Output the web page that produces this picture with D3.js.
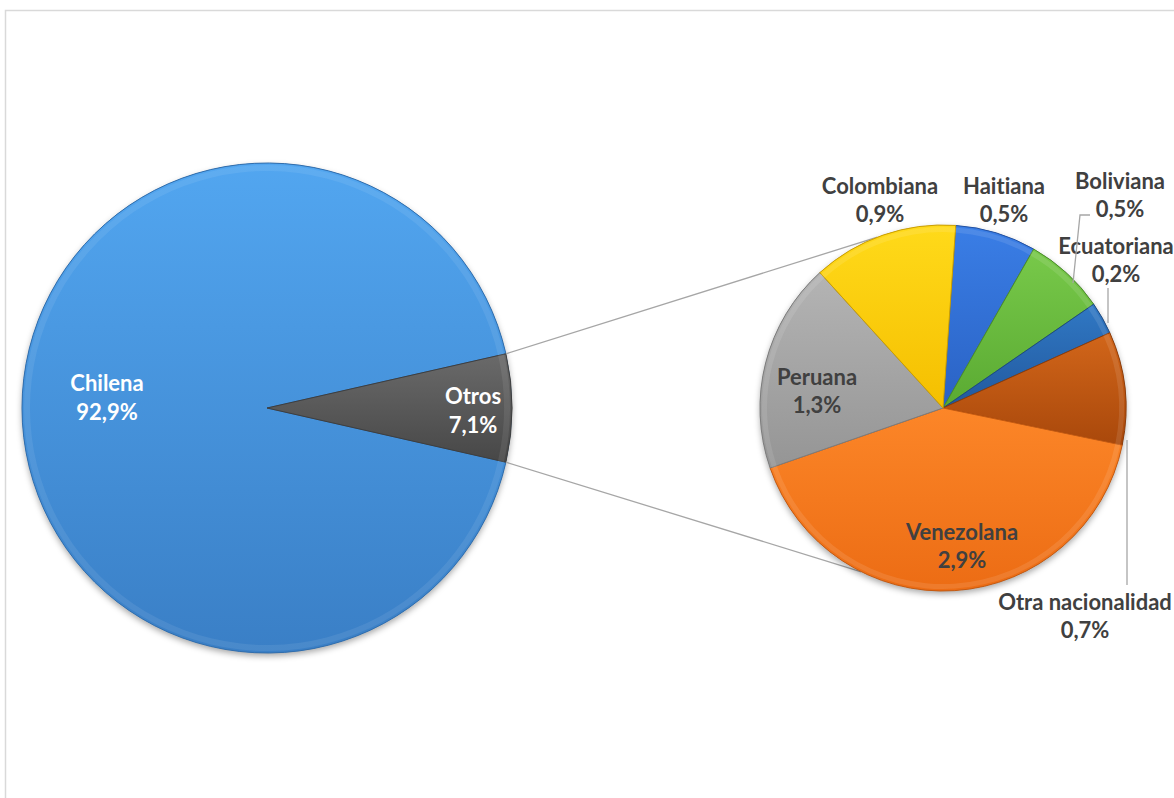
<!DOCTYPE html>
<html><head><meta charset="utf-8">
<script src="https://cdn.jsdelivr.net/npm/d3@7"></script>
<style>
html,body{margin:0;padding:0;background:#fff;}
svg{display:block;}
text{font-family:"Lato","Open Sans",sans-serif;font-weight:bold;font-variant-ligatures:none;font-feature-settings:"liga" 0,"clig" 0;}
</style></head>
<body>
<svg id="chart" width="1174" height="798"></svg>
<script>
// ---- data ----
const mainCategories = ["Chilena", "Otros"];
const mainValues = [92.9, 7.1];
const mainLabels = ["92,9%", "7,1%"];
const subCategories = ["Haitiana", "Boliviana", "Ecuatoriana", "Otra nacionalidad", "Venezolana", "Peruana", "Colombiana"];
const subValues = [0.5, 0.5, 0.2, 0.7, 2.9, 1.3, 0.9];
const subLabels = ["0,5%", "0,5%", "0,2%", "0,7%", "2,9%", "1,3%", "0,9%"];

// ---- styles / layout ----
const mainColors = {"Chilena": ["#52a6f0", "#3a7fc6"], "Otros": ["#6a6a6a", "#474747"]};
const subColors = {
  "Haitiana": ["#3a7ee6", "#2a62c4"],
  "Boliviana": ["#78c94a", "#5aaa32"],
  "Ecuatoriana": ["#3078c4", "#22599e"],
  "Otra nacionalidad": ["#d2661a", "#a9480b"],
  "Venezolana": ["#fc8628", "#ec6c14"],
  "Peruana": ["#b4b4b4", "#959595"],
  "Colombiana": ["#ffda1a", "#f5bf00"]
};
const FS = 22;
const mainLabelOffset = {"Chilena": [-160, -11], "Otros": [206, 2]};
const mainLabelColor = {"Chilena": "#ffffff", "Otros": "#ffffff"};
const subLabelOffset = {
  "Haitiana": [61, -208], "Boliviana": [177, -213], "Ecuatoriana": [173, -148],
  "Otra nacionalidad": [142, 208], "Venezolana": [19, 138], "Peruana": [-126, -17],
  "Colombiana": [-63, -208]
};
const leaders = {
  "Boliviana": [[130, -125], [137, -193], [147, -193]],
  "Ecuatoriana": [[165, -85], [165, -120]],
  "Otra nacionalidad": [[184, 32], [184, 177]]
};

const svg = d3.select("#chart");
const defs = svg.append("defs");
const shadow = defs.append("filter").attr("id", "shadow").attr("x", "-20%").attr("y", "-20%").attr("width", "140%").attr("height", "140%");
shadow.append("feDropShadow").attr("dx", 0).attr("dy", 3).attr("stdDeviation", 3).attr("flood-color", "#000").attr("flood-opacity", 0.35);

function grad(id, c) {
  const g = defs.append("linearGradient").attr("id", id).attr("x1", 0).attr("y1", 0).attr("x2", 0).attr("y2", 1);
  g.append("stop").attr("offset", "0%").attr("stop-color", c[0]);
  g.append("stop").attr("offset", "100%").attr("stop-color", c[1]);
  return "url(#" + id + ")";
}

// frame
svg.append("rect").attr("x", 5.5).attr("y", 10.5).attr("width", 1200).attr("height", 800)
  .attr("fill", "none").attr("stroke", "#d9d9d9").attr("stroke-width", 1.5);

// ---- main pie ----
const cx1 = 267, cy1 = 408, r1 = 245;
const otrosFrac = mainValues[1] / d3.sum(mainValues);
const pie1 = d3.pie().sort(null)
  .startAngle(Math.PI / 2 + otrosFrac * Math.PI)
  .endAngle(Math.PI / 2 + otrosFrac * Math.PI + 2 * Math.PI);
const arc1 = d3.arc().innerRadius(0).outerRadius(r1);
const mainData = mainCategories.map((c, i) => ({name: c, value: mainValues[i], label: mainLabels[i]}));
const arcs1 = pie1.value(d => d.value)(mainData);

const g1 = svg.append("g").attr("transform", `translate(${cx1},${cy1})`);
g1.append("circle").attr("r", r1).attr("fill", "#3a80c6").attr("filter", "url(#shadow)");
g1.selectAll("path").data(arcs1).join("path")
  .attr("d", arc1)
  .attr("fill", (d, i) => grad("gm" + i, mainColors[d.data.name]))
  .attr("stroke", (d) => d3.color(mainColors[d.data.name][1]).darker(0.4))
  .attr("stroke-width", 1);
g1.selectAll("path.hl").data(arcs1).join("path").attr("class", "hl")
  .attr("d", d3.arc().innerRadius(r1 - 8).outerRadius(r1 - 2))
  .attr("fill", "#fff").attr("opacity", 0.08);

g1.selectAll("text.lbl").data(arcs1).join("text").attr("class", "lbl")
  .attr("text-anchor", "middle").attr("fill", d => mainLabelColor[d.data.name])
  .attr("font-size", FS)
  .each(function (d) {
    const o = mainLabelOffset[d.data.name];
    const t = d3.select(this);
    t.append("tspan").attr("x", o[0]).attr("y", o[1] - 6).text(d.data.name);
    t.append("tspan").attr("x", o[0]).attr("y", o[1] + 23).text(d.data.label);
  });

// ---- second pie ----
const cx2 = 943, cy2 = 408, r2 = 183;
const pie2 = d3.pie().sort(null).value(d => d.value)
  .startAngle(4 * Math.PI / 180).endAngle(4 * Math.PI / 180 + 2 * Math.PI);
const arc2 = d3.arc().innerRadius(0).outerRadius(r2);
const subData = subCategories.map((c, i) => ({name: c, value: subValues[i], label: subLabels[i]}));
const arcs2 = pie2(subData);

// connector lines
const otrosArc = arcs1[1];
function pt(cx, cy, r, a) { return [cx + r * Math.sin(a), cy - r * Math.cos(a)]; }
const pTop1 = pt(cx1, cy1, r1, otrosArc.startAngle);
const pBot1 = pt(cx1, cy1, r1, otrosArc.endAngle);
const pTop2 = pt(cx2, cy2, r2, -21 * Math.PI / 180);
const pBot2 = pt(cx2, cy2, r2, 206.5 * Math.PI / 180);
svg.append("line").attr("x1", pTop1[0]).attr("y1", pTop1[1]).attr("x2", pTop2[0]).attr("y2", pTop2[1])
  .attr("stroke", "#a6a6a6").attr("stroke-width", 1.3);
svg.append("line").attr("x1", pBot1[0]).attr("y1", pBot1[1]).attr("x2", pBot2[0]).attr("y2", pBot2[1])
  .attr("stroke", "#a6a6a6").attr("stroke-width", 1.3);

const g2 = svg.append("g").attr("transform", `translate(${cx2},${cy2})`);
g2.append("circle").attr("r", r2).attr("fill", "#888").attr("filter", "url(#shadow)");
g2.selectAll("path").data(arcs2).join("path")
  .attr("d", arc2)
  .attr("fill", (d, i) => grad("gs" + i, subColors[d.data.name]))
  .attr("stroke", d => d3.color(subColors[d.data.name][1]).darker(0.5))
  .attr("stroke-width", 1);
g2.selectAll("path.hl").data(arcs2).join("path").attr("class", "hl")
  .attr("d", d3.arc().innerRadius(r2 - 7).outerRadius(r2 - 2))
  .attr("fill", "#fff").attr("opacity", 0.1);

// leader lines
Object.keys(leaders).forEach(k => {
  svg.append("path").attr("transform", `translate(${cx2},${cy2})`)
    .attr("d", d3.line()(leaders[k])).attr("fill", "none")
    .attr("stroke", "#a6a6a6").attr("stroke-width", 1.3);
});

g2.selectAll("text.lbl").data(arcs2).join("text").attr("class", "lbl")
  .attr("text-anchor", "middle").attr("fill", "#404040")
  .attr("font-size", FS)
  .each(function (d) {
    const o = subLabelOffset[d.data.name];
    const t = d3.select(this);
    t.append("tspan").attr("x", o[0]).attr("y", o[1] - 6).text(d.data.name);
    t.append("tspan").attr("x", o[0]).attr("y", o[1] + 22).text(d.data.label);
  });
</script>
</body></html>
